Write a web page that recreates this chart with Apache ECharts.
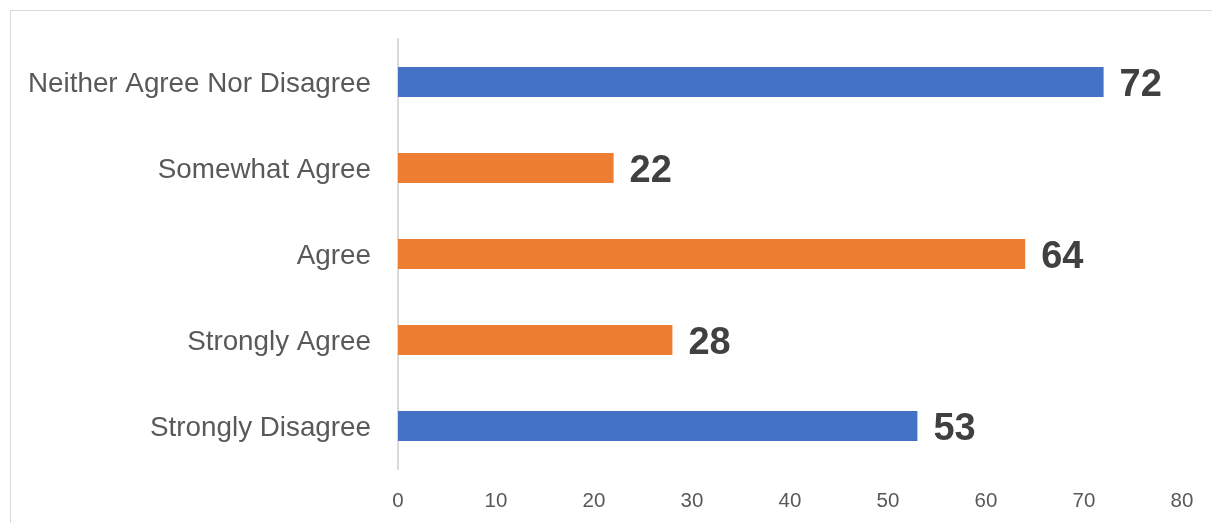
<!DOCTYPE html>
<html>
<head>
<meta charset="utf-8">
<script src="https://cdn.jsdelivr.net/npm/echarts@6/dist/echarts.min.js"></script>
<style>
  html, body { margin: 0; padding: 0; background: #ffffff; }
  #chart { width: 1212px; height: 523px; }
</style>
</head>
<body>
<div id="chart"></div>
<script>
// Survey responses, listed bottom to top
const categories = ['Strongly Disagree', 'Strongly Agree', 'Agree', 'Somewhat Agree', 'Neither Agree Nor Disagree'];
const counts = [53, 28, 64, 22, 72];
// Whether each response is on the "agree" side
const isAgree = [false, true, true, true, false];
const xTicks = [0, 10, 20, 30, 40, 50, 60, 70, 80];

const BLUE = '#4472c4';
const ORANGE = '#ed7d31';
const FONT = '"Liberation Sans", Arial, sans-serif';

const chart = echarts.init(document.getElementById('chart'), null, { renderer: 'canvas' });

chart.setOption({
  animation: false,
  backgroundColor: '#ffffff',
  graphic: [{
    type: 'rect',
    shape: { x: 10.5, y: 10.5, width: 1400, height: 700 },
    style: { fill: 'none', stroke: '#d9d9d9', lineWidth: 1 },
    silent: true
  }],
  grid: { left: 398, right: 30, top: 39, bottom: 54, containLabel: false },
  xAxis: {
    type: 'value',
    min: xTicks[0],
    max: xTicks[xTicks.length - 1],
    interval: xTicks[1] - xTicks[0],
    axisLine: { show: false },
    axisTick: { show: false },
    splitLine: { show: false },
    axisLabel: { color: '#595959', fontSize: 20.5, fontFamily: FONT, margin: 22 }
  },
  yAxis: {
    type: 'category',
    data: categories,
    axisLine: { show: true, lineStyle: { color: '#d9d9d9', width: 2 } },
    axisTick: { show: false },
    axisLabel: {
      margin: 27,
      formatter: (v) => '{c|' + v + '}',
      rich: {
        c: { color: '#595959', fontSize: 27.8, fontFamily: FONT, padding: [5, 0, 0, 0] }
      }
    }
  },
  series: [{
    type: 'bar',
    barWidth: 30,
    data: counts.map((v, i) => ({
      value: v,
      itemStyle: { color: isAgree[i] ? ORANGE : BLUE }
    })),
    label: {
      show: true,
      position: 'right',
      distance: 16,
      offset: [0, 4],
      color: '#404040',
      fontSize: 38,
      fontWeight: 'bold',
      fontFamily: FONT
    }
  }]
});
</script>
</body>
</html>
